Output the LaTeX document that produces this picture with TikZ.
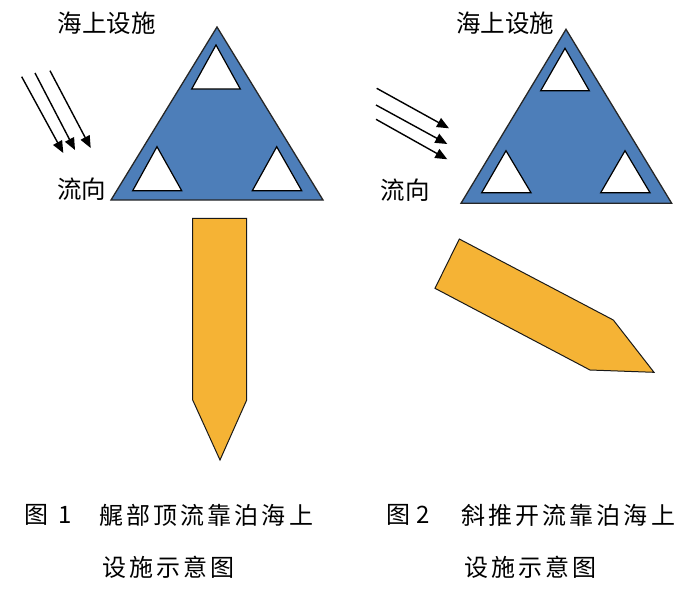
\documentclass[tikz,border=0pt]{standalone}
\usepackage{fontspec}
\newfontfamily\cjk{Noto Sans CJK SC}
\newfontfamily\cjkcap[LetterSpace=13]{Noto Sans CJK SC}
\usetikzlibrary{arrows.meta}
\definecolor{facblue}{RGB}{77,126,185}
\definecolor{shiporange}{RGB}{245,179,53}
\tikzset{
  facility/.style={fill=facblue, draw=black!85, line width=1.3pt, line join=miter},
  hole/.style={fill=white, draw=black, line width=1.2pt, line join=miter},
  ship/.style={fill=shiporange, draw=black!90, line width=1pt, line join=miter},
  flow/.style={draw=black, line width=1.4pt, -{Triangle[length=12pt,width=10pt]}},
  toplabel/.style={font=\cjk\fontsize{24.5}{27}\selectfont, inner sep=0pt},
  captext/.style={font=\cjkcap\fontsize{24}{27}\selectfont, inner sep=0pt, anchor=west},
  capnum/.style={font=\cjk\fontsize{24}{27}\selectfont, inner sep=0pt}
}
\begin{document}
\begin{tikzpicture}[x=1pt,y=-1pt]
\useasboundingbox (0,0) rectangle (700,595);
% ---------- Figure 1 ----------
\draw[facility] (217,27) -- (323,200) -- (111,200) -- cycle;
\draw[hole] (216,45) -- (240.3,89) -- (191.7,89) -- cycle;
\draw[hole] (157,146.7) -- (181.7,190.7) -- (132.7,190.7) -- cycle;
\draw[hole] (276.7,146.7) -- (301.7,190.7) -- (252.3,190.7) -- cycle;
\draw[ship] (192.7,218.3) -- (246.7,218.3) -- (246.7,400) -- (220,460) -- (192.7,400) -- cycle;
\coordinate (a1s) at (21.7,76.7);  \coordinate (a1e) at (63.3,153);
\coordinate (a2s) at (35,73);      \coordinate (a2e) at (75,150);
\coordinate (a3s) at (50,70.7);    \coordinate (a3e) at (90.7,148);
\draw[flow] (a1s) -- (a1e);
\draw[flow] (a2s) -- (a2e);
\draw[flow] (a3s) -- (a3e);
\node[toplabel] (fac1) at (106.5,23) {海上设施};
\node[toplabel] (dir1) at (81.5,189) {流向};
% ---------- Figure 2 ----------
\draw[facility] (566,29.3) -- (671.7,203.3) -- (461,203.3) -- cycle;
\draw[hole] (565,48.3) -- (589.3,90.7) -- (540.7,90.7) -- cycle;
\draw[hole] (506,150.7) -- (531,192.7) -- (481.7,192.7) -- cycle;
\draw[hole] (625,150.7) -- (650,192.7) -- (600.7,192.7) -- cycle;
\draw[ship] (459.3,239) -- (613.3,320) -- (654,372.3) -- (590,370) -- (435,288.3) -- cycle;
\coordinate (b1s) at (376.7,88.3); \coordinate (b1e) at (449,128.3);
\coordinate (b2s) at (376,105);    \coordinate (b2e) at (447.3,144);
\coordinate (b3s) at (376,119.3);  \coordinate (b3e) at (447.3,159.3);
\draw[flow] (b1s) -- (b1e);
\draw[flow] (b2s) -- (b2e);
\draw[flow] (b3s) -- (b3e);
\node[toplabel] (fac2) at (505,23) {海上设施};
\node[toplabel] (dir2) at (405,190) {流向};
% ---------- Captions ----------
\node[capnum] (c1fig) at (36,515) {图};
\node[capnum] (c1num) at (65,515) {1};
\node[captext] (c1a) at (99,515) {艉部顶流靠泊海上};
\node[captext] (c1b) at (102,567) {设施示意图};
\node[capnum] (c2fig) at (398,515) {图};
\node[capnum] (c2num) at (423.5,515) {2};
\node[captext] (c2a) at (461,515) {斜推开流靠泊海上};
\node[captext] (c2b) at (464,567) {设施示意图};
\end{tikzpicture}
\end{document}
